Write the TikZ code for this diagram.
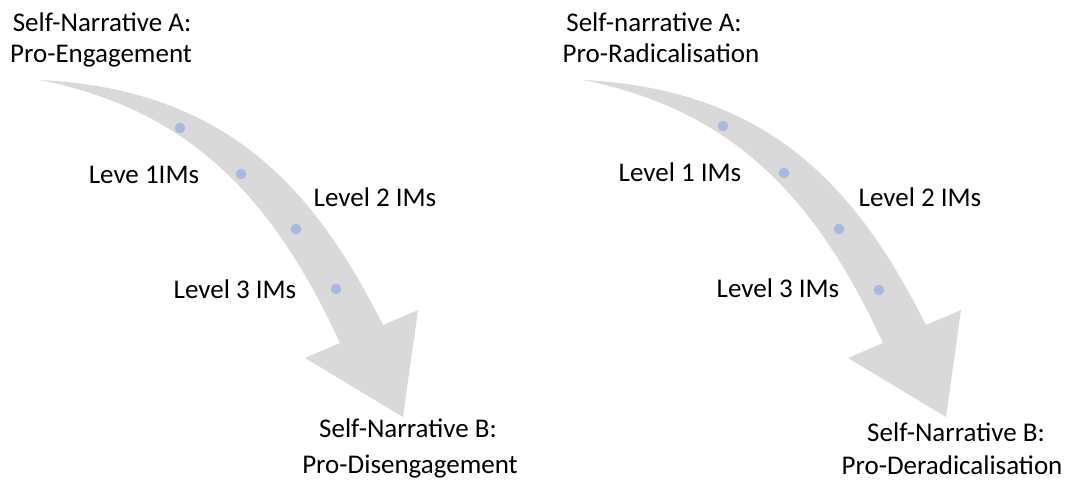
\documentclass[tikz,border=0pt]{standalone}
\usepackage{fontspec}
\setmainfont{Carlito}
\definecolor{arrowgray}{HTML}{D9D9D9}
\definecolor{dotblue}{HTML}{A9B8E2}
\begin{document}
\begin{tikzpicture}[x=1pt,y=-1pt,
  lbl/.style={anchor=base,inner sep=0pt,font=\fontsize{27}{32}\selectfont,text=black},
  dot/.style={circle,inner sep=0pt,minimum size=10.5pt,fill=dotblue},
  bigarrow/.pic={
    \fill[arrowgray] (40,80) .. controls (230,89.5) and (315.5,191.5) .. (383,325)
      -- (418,310) -- (403,417) -- (305,358) -- (340,343)
      .. controls (272.8,197.4) and (190,110) .. (40,80) -- cycle;
  }]
\useasboundingbox (0,0) rectangle (1067,481);
\fill[white] (0,0) rectangle (1067,481);
% left arrow
\pic at (0,0) {bigarrow};
\node[dot] (la1) at (180,128) {};
\node[dot] (la2) at (241,174) {};
\node[dot] (la3) at (296,229) {};
\node[dot] (la4) at (336,289) {};
\node[lbl] (ltop1) at (102,32) {Self-Narrative A:};
\node[lbl] (ltop2) at (101,63) {Pro-Engagement};
\node[lbl] (ll1) at (144,183) {Leve 1IMs};
\node[lbl] (ll2) at (375,206) {Level 2 IMs};
\node[lbl] (ll3) at (235,298) {Level 3 IMs};
\node[lbl] (lbot1) at (408,437) {Self-Narrative B:};
\node[lbl] (lbot2) at (410,473) {Pro-Disengagement};
% right arrow
\pic at (543,0) {bigarrow};
\node[dot] (ra1) at (723,126) {};
\node[dot] (ra2) at (784,173) {};
\node[dot] (ra3) at (839,229) {};
\node[dot] (ra4) at (879,290) {};
\node[lbl] (rtop1) at (654,32) {Self-narrative A:};
\node[lbl] (rtop2) at (661,63) {Pro-Radicalisation};
\node[lbl] (rl1) at (680,182) {Level 1 IMs};
\node[lbl] (rl2) at (920,206) {Level 2 IMs};
\node[lbl] (rl3) at (778,297) {Level 3 IMs};
\node[lbl] (rbot1) at (956,441) {Self-Narrative B:};
\node[lbl] (rbot2) at (952,474) {Pro-Deradicalisation};
\end{tikzpicture}
\end{document}
